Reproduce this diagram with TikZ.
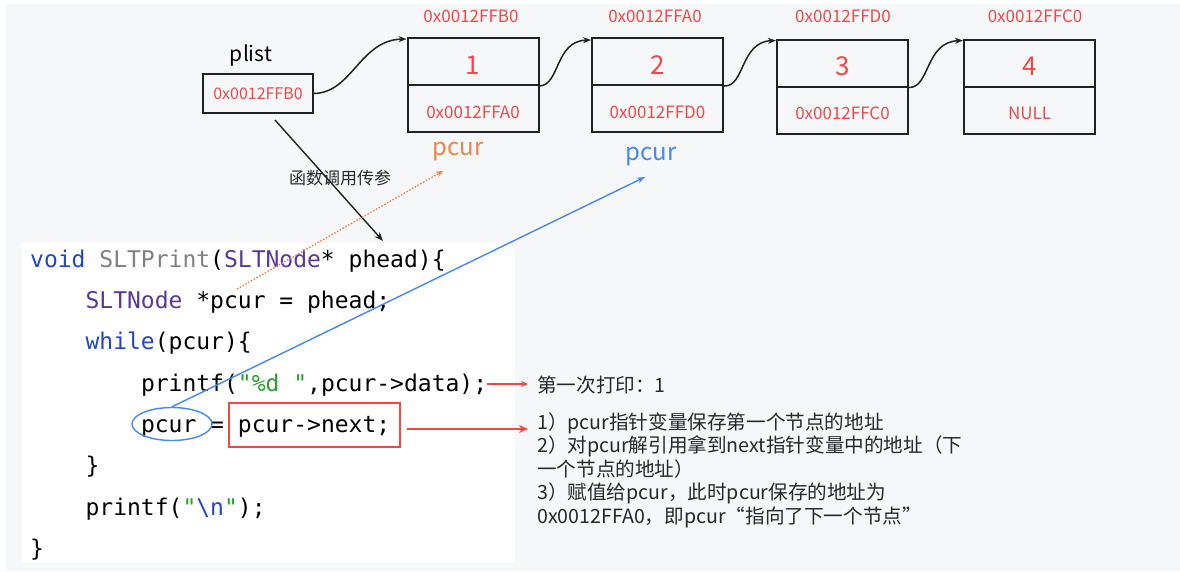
\documentclass[tikz,border=0pt]{standalone}
\usepackage{fontspec}
\setmainfont{Noto Sans CJK SC}
\newfontfamily\codefont{DejaVu Sans Mono}
\usetikzlibrary{arrows.meta,shapes.geometric,calc}
\definecolor{panel}{RGB}{246,247,249}
\definecolor{addr}{RGB}{245,70,70}
\definecolor{porange}{RGB}{240,130,75}
\definecolor{pblue}{RGB}{70,135,240}
\definecolor{kwblue}{RGB}{30,70,200}
\definecolor{fngray}{RGB}{128,128,128}
\definecolor{typurple}{RGB}{90,55,155}
\definecolor{strgreen}{RGB}{40,160,40}
\definecolor{boxline}{RGB}{34,34,34}
\definecolor{txt}{RGB}{40,40,40}
\newcommand{\dn}[1]{\raisebox{-3.5pt}[\height][\depth]{#1}}
\begin{document}
\begin{tikzpicture}[x=1pt,y=-1pt,
  cell/.style={draw=boxline, line width=2pt, minimum width=131pt, minimum height=47pt, inner sep=0pt, text=addr},
  numf/.style={font=\fontsize{26}{26}\selectfont},
  addrf/.style={font=\fontsize{17}{17}\selectfont},
  addrlbl/.style={text=addr, font=\fontsize{17}{17}\selectfont, inner sep=0pt},
  codeline/.style={anchor=base west, inner sep=0pt, font=\codefont\fontsize{23}{23}\selectfont, text=black},
  note/.style={anchor=base west, inner sep=0pt, font=\fontsize{19.6}{19.6}\selectfont, text=txt},
  curve/.style={line width=1.5pt, draw=boxline, -{Stealth[length=8pt,width=6pt]}},
]
\useasboundingbox (0,0) rectangle (1180,571);
\fill[white] (0,0) rectangle (1180,571);
\fill[panel] (6,4) rectangle (1180,571);
\fill[white] (22,243) rectangle (515,563);

% linked list nodes
\node[cell, numf] (n1t) at (473,61.5) {\dn{1}};
\node[cell, addrf] (n1b) at (473,108.5) {\dn{0x0012FFA0}};
\node[cell, numf] (n2t) at (657.5,61.5) {\dn{2}};
\node[cell, addrf] (n2b) at (657.5,108.5) {\dn{0x0012FFD0}};
\node[cell, numf] (n3t) at (842.5,63) {\dn{3}};
\node[cell, addrf] (n3b) at (842.5,110) {\dn{0x0012FFC0}};
\node[cell, numf] (n4t) at (1029.5,63) {\dn{4}};
\node[cell, addrf] (n4b) at (1029.5,110) {\dn{NULL}};

\node[addrlbl] (a1) at (471,16) {0x0012FFB0};
\node[addrlbl] (a2) at (655,16) {0x0012FFA0};
\node[addrlbl] (a3) at (843,16) {0x0012FFD0};
\node[addrlbl] (a4) at (1035,16) {0x0012FFC0};

\node[draw=boxline, line width=1.6pt, minimum width=110pt, minimum height=39pt, inner sep=0pt, text=addr, font=\fontsize{16}{16}\selectfont] (plist) at (258,93.5) {0x0012FFB0};
\node[inner sep=0pt, font=\fontsize{21}{21}\selectfont, text=black] (plbl) at (251,55.5) {plist};

\draw[curve] (plist.east) .. controls (352,93) and (360,40) .. ($(n1t.north west)+(0,2)$);
\draw[curve] (n1t.south east) .. controls (560,85) and (555,41) .. ($(n2t.north west)+(0,3)$);
\draw[curve] (n2t.south east) .. controls (745,87) and (740,42) .. ($(n3t.north west)+(0,2)$);
\draw[curve] (n3t.south east) .. controls (930,88) and (925,42) .. ($(n4t.north west)+(0,2)$);

\node[inner sep=0pt, text=porange, font=\fontsize{24}{24}\selectfont] (po) at (458,152) {pcur};
\node[inner sep=0pt, text=pblue, font=\fontsize{24}{24}\selectfont] (pb) at (651,157) {pcur};

% code
\node[codeline] (l1) at (30,267) {\textcolor{kwblue}{void} \textcolor{fngray}{SLTPrint}(\textcolor{typurple}{SLTNode}* phead)\{};
\node[codeline] (l2) at (85.4,308) {\textcolor{typurple}{SLTNode} *pcur = phead;};
\node[codeline] (l3) at (85.4,349.5) {\textcolor{kwblue}{while}(pcur)\{};
\node[codeline] (l4) at (140.8,391) {printf(\textcolor{strgreen}{"\%d "},pcur->data);};
\node[codeline] (l5) at (140.8,432) {pcur = pcur->next;};
\node[codeline] (l6) at (85.4,473) {\}};
\node[codeline] (l7) at (85.4,515) {printf(\textcolor{strgreen}{"}\textcolor{kwblue}{\textbackslash n}\textcolor{strgreen}{"});};
\node[codeline] (l8) at (30,556) {\}};

% call arrow
\coordinate (cs) at (275,120);
\coordinate (ce) at (383,241);
\draw[line width=1.4pt, draw=boxline, -{Stealth[length=9pt,width=7pt]}] (cs) -- (ce);
\node[inner sep=0pt, text=txt, font=\fontsize{17}{17}\selectfont] (call) at (340,178) {函数调用传参};

% orange dotted
\coordinate (os) at (237,289);
\coordinate (oe) at (443,171);
\draw[porange, line width=1.3pt, dash pattern=on 1.6pt off 1.6pt, -{Stealth[length=7pt,width=6pt]}] (os) -- (oe);

% blue ellipse and line
\node[draw=pblue, ellipse, line width=1.4pt, minimum width=80pt, minimum height=33pt, inner sep=0pt] (ell) at (172,424) {};
\coordinate (bt) at (645,177);
\draw[pblue, line width=1.4pt, -{Stealth[length=8pt,width=6pt]}] (ell.north) -- (bt);

% red box
\node[draw=addr, line width=1.4pt, minimum width=171pt, minimum height=44pt, inner sep=0pt] (rbox) at (314.5,425) {};

% notes
\node[note] (t1) at (537,392) {第一次打印：1};
\coordinate (r1s) at (487,384);
\coordinate (r1e) at (528,384);
\draw[addr, line width=1.2pt, -{Stealth[length=7pt,width=6pt]}] (r1s) -- (r1e);
\coordinate (r2s) at (407,429);
\coordinate (r2e) at (528,429);
\draw[addr, line width=2.2pt, -{Stealth[length=9pt,width=8pt]}] (r2s) -- (r2e);

\node[note] (t2a) at (537,429) {1）pcur指针变量保存第一个节点的地址};
\node[note] (t2b) at (537,452.5) {2）对pcur解引用拿到next指针变量中的地址（下};
\node[note] (t2c) at (537,476) {一个节点的地址）};
\node[note] (t2d) at (537,499.5) {3）赋值给pcur，此时pcur保存的地址为};
\node[note] (t2e) at (537,523) {0x0012FFA0，即pcur“指向了下一个节点”};
\end{tikzpicture}
\end{document}
